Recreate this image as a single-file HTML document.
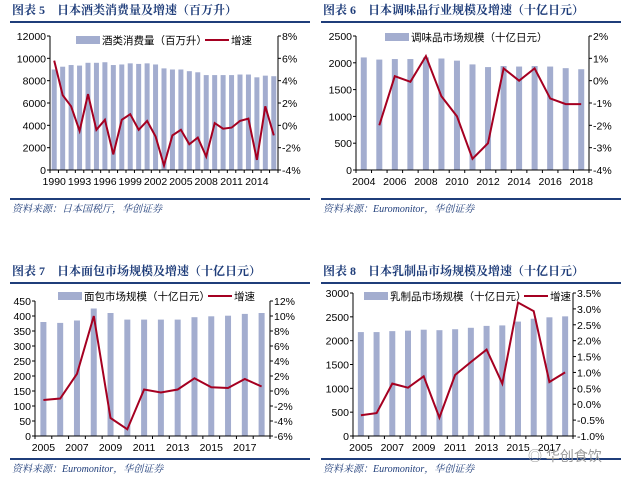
<!DOCTYPE html><html><head><meta charset="utf-8"><style>
body{margin:0;background:#fff;width:622px;height:482px;overflow:hidden}
svg{position:absolute;left:0;top:0}
text{font-family:"Liberation Sans","Noto Sans CJK SC",sans-serif;font-size:10.5px;fill:#000}
.t{font-family:"Liberation Serif","Noto Serif CJK SC",serif;font-weight:bold;font-size:12px;fill:#1f3d7a}
.s{font-family:"Liberation Serif","Noto Serif CJK SC",serif;font-style:italic;font-size:10px;fill:#1f3d7a}
</style></head><body>
<svg id="c" width="622" height="482" xmlns="http://www.w3.org/2000/svg"></svg>
<script>
var S=document.getElementById('c'),h='';
function T(x,y,s,a,c){h+='<text x="'+x+'" y="'+y+'"'+(a?' text-anchor="'+a+'"':'')+(c?' class="'+c+'"':'')+'>'+s+'</text>';}
function L(x1,y1,x2,y2,c,w){h+='<line x1="'+x1+'" y1="'+y1+'" x2="'+x2+'" y2="'+y2+'" stroke="'+c+'" stroke-width="'+w+'"/>';}
function chart(o){
 T(o.tx,o.ty,o.title,0,'t');L(o.tx-2,o.ty+8,o.tx+298,o.ty+8,'#1f3d7a',2);
 L(o.tx-2,o.by,o.tx+298,o.by,'#1f3d7a',2);T(o.tx,o.by+13,o.src,0,'s');
 var n=o.bars.length,cw=(o.x2-o.x1)/n,ly=function(v){return o.y0+(o.y1-o.y0)*(v-o.lmin)/(o.lmax-o.lmin)},ry=function(v){return o.y0+(o.y1-o.y0)*(v-o.rmin)/(o.rmax-o.rmin)};
 for(var i=0;i<n;i++){var x=o.x1+cw*(i+.5),y=ly(o.bars[i]);h+='<rect x="'+(x-o.bw/2)+'" y="'+y+'" width="'+o.bw+'" height="'+(o.y0-y)+'" fill="#a3adcf"/>';}
 L(o.x1,o.y0,o.x1,o.y1,'#000',1);L(o.x2,o.y0,o.x2,o.y1,'#000',1);L(o.x1,o.y0,o.x2,o.y0,'#000',1);
 for(var v=o.lmin;v<=o.lmax+1e-9;v+=o.lstep){var y=ly(v);L(o.x1-3,y,o.x1,y,'#000',1);T(o.x1-4,y+4,v,'end');}
 for(var v=o.rmin;v<=o.rmax+1e-9;v+=o.rstep){var y=ry(v);L(o.x2,y,o.x2+3,y,'#000',1);T(o.x2+4,y+4,v.toFixed(o.rd)+'%');}
 for(var i=0;i<=n;i++){var x=o.x1+cw*i;L(x,o.y0,x,o.y0+3,'#000',1);}
 for(var i=0;i<n;i+=o.ls){T(o.x1+cw*(i+o.lo),o.y0+15,o.y+i,'middle');}
 var p=[];for(var i=0;i<n;i++)if(o.g[i]!==null)p.push((o.x1+cw*(i+.5)).toFixed(1)+','+ry(o.g[i]).toFixed(1));
 h+='<polyline points="'+p.join(' ')+'" fill="none" stroke="#a50021" stroke-width="2"/>';
 h+='<rect x="'+o.lx+'" y="'+(o.ly-5)+'" width="24" height="8" fill="#a3adcf"/>';T(o.lx+26,o.ly+3,o.lt);
 if(o.gx){L(o.gx,o.ly-1,o.gx+24,o.ly-1,'#a50021',2);T(o.gx+26,o.ly+3,'增速');}
}
chart({tx:12,ty:14,by:199,title:'图表 5　日本酒类消费量及增速（百万升）',src:'资料来源：日本国税厅，华创证券',
x1:50,x2:278,y0:170,y1:36,bw:5,lmin:0,lmax:12000,lstep:2000,rmin:-4,rmax:8,rstep:2,rd:0,y:1990,ls:3,lo:.5,
bars:[9000,9250,9400,9350,9600,9600,9650,9400,9450,9550,9500,9550,9450,9100,9000,9000,8850,8750,8500,8500,8500,8500,8550,8550,8300,8450,8400],
g:[5.8,2.7,1.7,-.5,2.8,-.4,.5,-2.6,.5,1,-.4,.4,-1,-3.6,-.9,-.4,-1.7,-1.1,-2.8,.2,-.3,-.2,.4,.6,-3.1,1.7,-.9],
lx:76,ly:41,lt:'酒类消费量（百万升）',gx:205});
chart({tx:323,ty:14,by:199,title:'图表 6　日本调味品行业规模及增速（十亿日元）',src:'资料来源：Euromonitor，华创证券',
x1:356,x2:589,y0:170,y1:36,bw:6,lmin:0,lmax:2500,lstep:500,rmin:-4,rmax:2,rstep:1,rd:0,y:2004,ls:2,lo:.5,
bars:[2100,2060,2070,2070,2100,2080,2040,1970,1920,1940,1930,1940,1930,1900,1880],
g:[null,-2,.2,-.05,1.1,-.7,-1.6,-3.5,-2.8,.55,0,.55,-.8,-1.05,-1.05],
lx:385,ly:38,lt:'调味品市场规模（十亿日元）'});
chart({tx:12,ty:275,by:459,title:'图表 7　日本面包市场规模及增速（十亿日元）',src:'资料来源：Euromonitor，华创证券',
x1:35,x2:270,y0:436,y1:301,bw:6,lmin:0,lmax:450,lstep:50,rmin:-6,rmax:12,rstep:2,rd:0,y:2005,ls:2,lo:.5,
bars:[380,377,385,425,410,388,388,388,388,396,399,401,407,410],
g:[-1.2,-1,2.3,10,-3.6,-5.1,.2,-.2,.2,1.7,.5,.4,1.6,.6],
lx:58,ly:297,lt:'面包市场规模（十亿日元）',gx:208});
chart({tx:323,ty:275,by:459,title:'图表 8　日本乳制品市场规模及增速（十亿日元）',src:'资料来源：Euromonitor，华创证券',
x1:353,x2:573,y0:436,y1:293,bw:6,lmin:0,lmax:3000,lstep:500,rmin:-1,rmax:3.5,rstep:.5,rd:1,y:2005,ls:2,lo:.5,
bars:[2180,2180,2200,2210,2230,2220,2240,2270,2310,2320,2400,2460,2490,2510],
g:[-.35,-.28,.65,.52,.88,-.42,.92,1.33,1.72,.65,3.2,2.93,.7,1],
lx:364,ly:297,lt:'乳制品市场规模（十亿日元）',gx:524});
h+='<text x="528" y="461" style="font-size:14px;fill:#999">◎ 华创食饮</text>';
S.innerHTML=h;
</script></body></html>
